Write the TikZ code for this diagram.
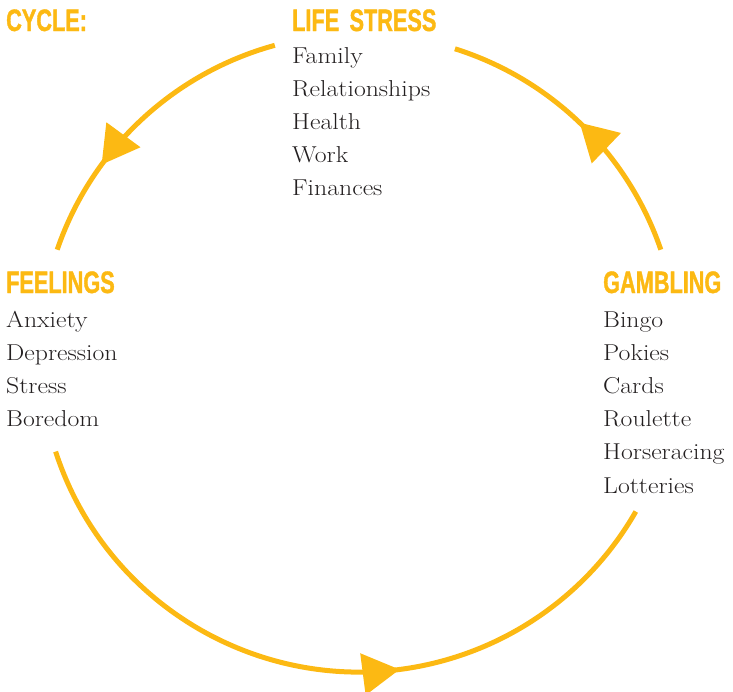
\documentclass[tikz,border=0pt]{standalone}
\usepackage{fontspec}
\usetikzlibrary{arrows.meta,decorations.markings}
\setmainfont{Latin Modern Roman}[FakeStretch=1.12]
\newfontfamily\headfont[FakeStretch=0.70,FakeBold=1.2]{Liberation Sans}
\definecolor{cycleyellow}{RGB}{252,185,19}
\definecolor{listgray}{RGB}{35,31,32}

\tikzset{
  heading/.style={anchor=base west, inner sep=0pt, text=cycleyellow,
    font=\headfont\bfseries\fontsize{31}{31}\selectfont},
  item/.style={anchor=base west, inner sep=0pt, text=listgray,
    font=\fontsize{23}{33}\selectfont},
  loop/.style={draw=cycleyellow, line width=5pt},
  tip at/.style={postaction=decorate, decoration={markings,
    mark=at position #1 with {\arrow[cycleyellow]{Triangle[length=37pt,width=41pt]}}}}
}

\begin{document}
\begin{tikzpicture}[x=1pt,y=-1pt]
\useasboundingbox (0,0) rectangle (733,691);

% Headings
\node[heading] (cycle) at (6,31) {CYCLE:};
\node[heading] (stress) at (292,31) {LIFE\,\,STRESS};
\node[heading] (feelings) at (6,293) {FEELINGS};
\node[heading] (gambling) at (603,293) {GAMBLING};

% Lists
\foreach \t [count=\i] in {Family,Relationships,Health,Work,Finances}
  \node[item] (stress-\i) at (292,{63+33*(\i-1)}) {\t};
\foreach \t [count=\i] in {Anxiety,Depression,Stress,Boredom}
  \node[item] (feelings-\i) at (6,{327+33*(\i-1)}) {\t};
\foreach \t [count=\i] in {Bingo,Pokies,Cards,Roulette,Horseracing,Lotteries}
  \node[item] (gambling-\i) at (603,{327+33.2*(\i-1)}) {\t};

% The cycle
\coordinate (hub) at (359,353);
\draw[loop, tip at=0.69] (hub) ++(-105.3:319) arc[start angle=-105.3, end angle=-161.1, radius=319];
\draw[loop, tip at=0.51] (hub) ++(-18.9:319) arc[start angle=-18.9, end angle=-72.5, radius=319];
\draw[loop, tip at=0.60] (hub) ++(162:319) arc[start angle=162, end angle=29.8, radius=319];
\end{tikzpicture}
\end{document}
